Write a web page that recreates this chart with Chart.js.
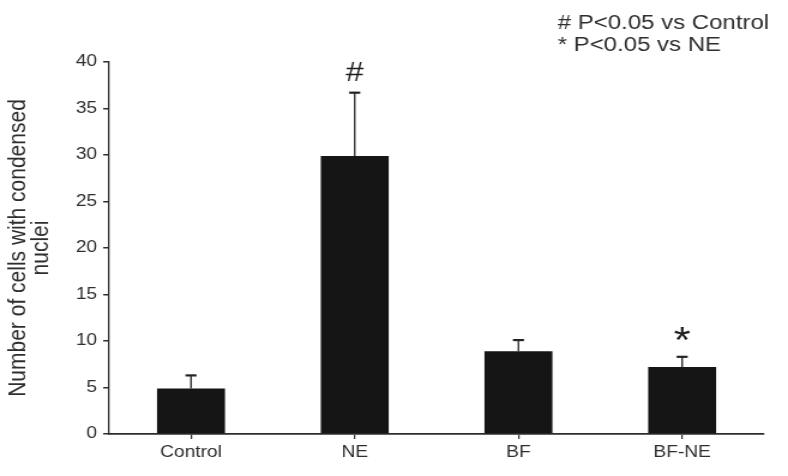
<!DOCTYPE html>
<html>
<head>
<meta charset="utf-8">
<script src="https://cdn.jsdelivr.net/npm/chart.js@4/dist/chart.umd.min.js"></script>
<style>
  html, body { margin: 0; padding: 0; background: #ffffff; overflow: hidden; }
  #wrap { width: 788px; height: 476px; position: relative; overflow: hidden; }
  /* the figure is drawn at its natural width and widened to the page */
  #chart { position: absolute; left: 0; top: 0; transform: scaleX(1.19939); transform-origin: 0 0; }
</style>
</head>
<body>
<div id="wrap"><canvas id="chart" width="657" height="476"></canvas></div>
<script>
// Groups and measured means
const categories = ['Control', 'NE', 'BF', 'BF-NE'];
const meanValues = [4.9, 29.9, 8.9, 7.2];
// Upper error (SEM) for each group
const errorValues = [1.4, 6.8, 1.2, 1.1];
// Significance marks above the bars
const sigMarks = ['', '#', '', '*'];
// Notes in the upper right corner
const noteLines = ['# P<0.05 vs Control', '* P<0.05 vs NE'];
const yTitle = ['Number of cells with condensed', 'nuclei'];

const FONT = '"Liberation Sans", Arial, Helvetica, sans-serif';
const INK = '#2e2e2e';

// Draws the upper error whiskers, significance marks and the note text
const annotations = {
  id: 'annotations',
  afterDatasetsDraw(chart) {
    const ctx = chart.ctx;
    const meta = chart.getDatasetMeta(0);
    const y = chart.scales.y;
    ctx.save();
    meta.data.forEach((bar, i) => {
      const top = y.getPixelForValue(meanValues[i] + errorValues[i]);
      const base = y.getPixelForValue(meanValues[i]);
      ctx.strokeStyle = '#222';
      ctx.lineWidth = 1.3;
      ctx.beginPath();
      ctx.moveTo(bar.x, base);
      ctx.lineTo(bar.x, top);
      ctx.stroke();
      ctx.lineWidth = 2.2;
      ctx.beginPath();
      ctx.moveTo(bar.x - 4.6, top);
      ctx.lineTo(bar.x + 4.6, top);
      ctx.stroke();
      if (sigMarks[i]) {
        ctx.fillStyle = '#1c1c1c';
        ctx.textAlign = 'center';
        ctx.textBaseline = 'alphabetic';
        const star = sigMarks[i] === '*';
        ctx.font = (star ? '36px ' : '27px ') + FONT;
        ctx.fillText(sigMarks[i], bar.x, top - (star ? 4 : 12));
      }
    });
    ctx.fillStyle = INK;
    ctx.font = '20px ' + FONT;
    ctx.textAlign = 'left';
    ctx.textBaseline = 'middle';
    noteLines.forEach((t, k) => ctx.fillText(t, 465, 23 + k * 22));
    ctx.restore();
  }
};

new Chart(document.getElementById('chart'), {
  type: 'bar',
  data: {
    labels: categories,
    datasets: [{
      data: meanValues,
      backgroundColor: '#151515',
      borderWidth: 0,
      categoryPercentage: 1,
      barPercentage: 0.415
    }]
  },
  options: {
    responsive: false,
    animation: false,
    devicePixelRatio: 1,
    layout: { padding: { top: 62, right: 20, left: 0, bottom: 0 } },
    plugins: { legend: { display: false }, tooltip: { enabled: false } },
    scales: {
      x: {
        offset: true,
        afterFit(scale) { scale.height = 42; },
        border: { display: true, color: INK, width: 1.8 },
        grid: { display: true, drawOnChartArea: false, drawTicks: true, tickLength: 5, color: INK, lineWidth: 1.2, offset: false },
        ticks: { color: INK, font: { family: FONT, size: 16 }, padding: 4 }
      },
      y: {
        min: 0,
        max: 40,
        afterFit(scale) { scale.width = 91; },
        border: { display: true, color: INK, width: 1.3 },
        grid: { display: true, drawOnChartArea: false, drawTicks: true, tickLength: 5, color: INK, lineWidth: 1.5 },
        ticks: { stepSize: 5, color: INK, font: { family: FONT, size: 16 }, padding: 5 },
        title: {
          display: true,
          text: yTitle,
          color: INK,
          font: { family: FONT, size: 21, lineHeight: 0.88 },
          padding: { top: 6, bottom: 2 }
        }
      }
    }
  },
  plugins: [annotations]
});
</script>
</body>
</html>
